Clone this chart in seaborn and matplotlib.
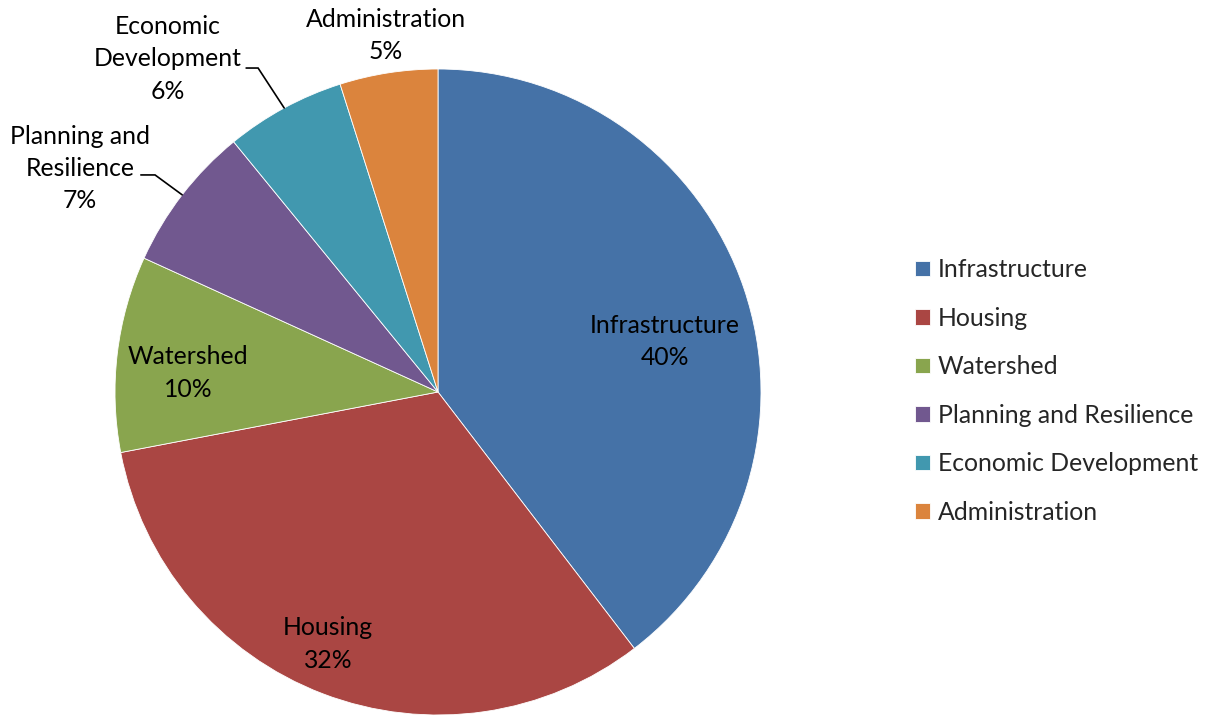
import numpy as np
import matplotlib
matplotlib.use("Agg")
import matplotlib.pyplot as plt
import seaborn as sns

categories = ["Infrastructure", "Housing", "Watershed", "Planning and Resilience",
              "Economic Development", "Administration"]
values = [39.6, 32.4, 9.8, 7.3, 6.0, 4.9]
colors = ["#4572A7", "#AA4643", "#89A54E", "#71588F", "#4198AF", "#DB843D"]
label_texts = ["Infrastructure", "Housing", "Watershed", "Planning and\nResilience",
               "Economic\nDevelopment", "Administration"]

sns.set_theme(style="white")
plt.rcParams["font.family"] = ["Lato", "DejaVu Sans"]

W, H = 1206, 717
fig = plt.figure(figsize=(W / 100, H / 100), dpi=100)
cx, cy, R = 438, 392, 323
ax = fig.add_axes([(cx - R) / W, (H - cy - R) / H, 2 * R / W, 2 * R / H])
wedges, _ = ax.pie(values, colors=colors, startangle=90, counterclock=False,
                   radius=1, wedgeprops=dict(linewidth=0.6, edgecolor="white"))
ax.set_xlim(-1, 1)
ax.set_ylim(-1, 1)
ax.set_aspect("equal")
ax.axis("off")

fs = 17.8
# label placement (data units, radius = 1)
label_pos = [(0.703, 0.155), (-0.341, -0.780), (-0.774, 0.059),
             (-1.108, 0.693), (-0.836, 1.031), (-0.161, 1.105)]
for w, txt, v, (lx, ly) in zip(wedges, label_texts, values, label_pos):
    ax.text(lx, ly, f"{txt}\n{v:.0f}%", ha="center", va="center", fontsize=fs,
            color="black", linespacing=1.48, clip_on=False)

# leader lines for the small outer labels
leaders = {3: (-0.920, -0.876, 0.672), 4: (-0.594, -0.557, 1.003)}
for i, (x0, x1, yl) in leaders.items():
    w = wedges[i]
    mid = np.deg2rad((w.theta1 + w.theta2) / 2)
    ex, ey = np.cos(mid), np.sin(mid)
    ax.plot([x0, x1, ex], [yl, yl, ey], color="black", lw=1.2,
            clip_on=False, solid_joinstyle="miter")

leg = fig.legend(wedges, categories, loc="center left",
                 bbox_to_anchor=(893 / W, 1 - 391 / H), frameon=False,
                 fontsize=fs, handlelength=0.6, handleheight=0.6,
                 handletextpad=0.3, labelspacing=1.03)

fig.savefig("out.png", dpi=100)
